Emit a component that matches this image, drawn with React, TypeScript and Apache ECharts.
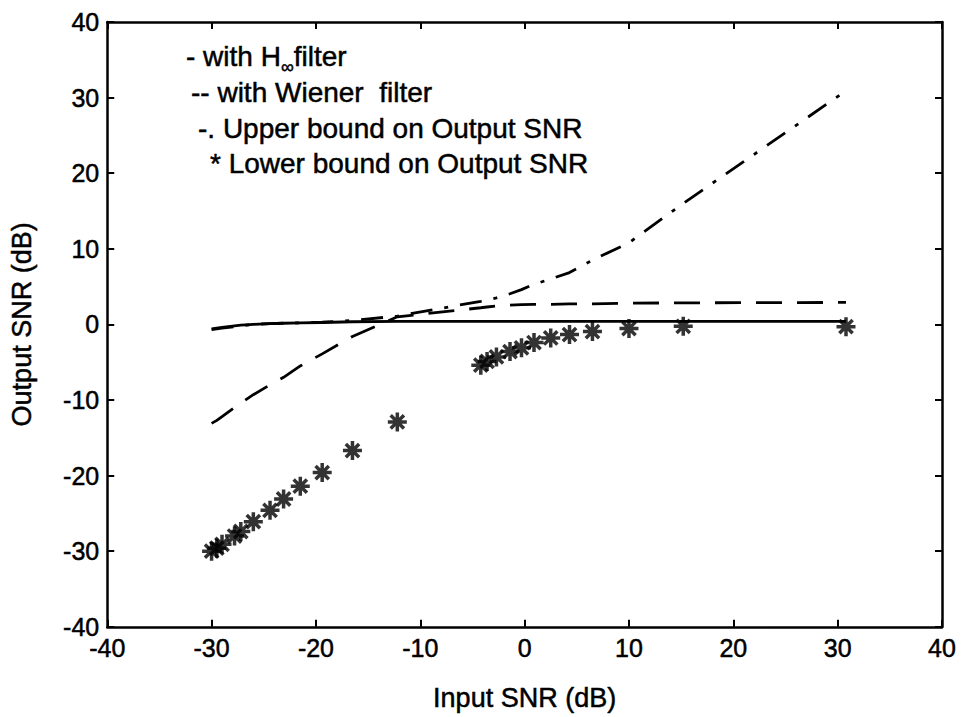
import React, { useEffect, useRef } from "react";
import * as echarts from "echarts";

const inputSnr = [-30.0, -29.5, -29.0, -27.8, -27.2, -26.0, -24.4, -23.1, -21.5, -19.4, -16.5, -12.2, -4.2, -3.6, -2.7, -1.4, -0.3, 0.9, 2.5, 4.3, 6.5, 10.0, 15.2, 30.8];
const lowerBound = [-30.0, -29.6, -29.1, -28.0, -27.4, -26.1, -24.6, -23.1, -21.4, -19.6, -16.7, -12.9, -5.4, -4.9, -4.3, -3.6, -3.1, -2.4, -1.8, -1.35, -0.95, -0.55, -0.25, -0.3];
const hinfOut = [-0.6, -0.5, -0.4, -0.2, -0.1, 0.0, 0.1, 0.15, 0.2, 0.25, 0.35, 0.4, 0.4, 0.4, 0.4, 0.4, 0.4, 0.4, 0.4, 0.4, 0.4, 0.4, 0.4, 0.4];
const wienerOut = [-13.1, -12.7, -12.2, -11.0, -10.4, -9.3, -8.0, -7.0, -5.5, -3.9, -1.6, 1.0, 2.2, 2.3, 2.45, 2.55, 2.6, 2.65, 2.65, 2.7, 2.7, 2.8, 2.85, 2.9];
const upperBound = [-0.7, -0.6, -0.5, -0.3, -0.2, 0.0, 0.1, 0.15, 0.2, 0.3, 0.5, 1.1, 3.05, 3.2, 3.5, 4.05, 4.6, 5.3, 6.0, 6.85, 8.5, 10.8, 16.0, 30.9];

const legendRows = ["-- with Wiener  filter", "-. Upper bound on Output SNR", "* Lower bound on Output SNR"];

const FONT = "Liberation Sans, Arial, Helvetica, sans-serif";
const STAR = "path://M0,-10L0,10M-10,0L10,0M-7,-7L7,7M-7,7L7,-7";

const zip = (xs: number[], ys: number[]) => xs.map((x, i) => [x, ys[i]]);

export default function App() {
  const ref = useRef<HTMLDivElement>(null);
  useEffect(() => {
    if (!ref.current) return;
    const chart = echarts.init(ref.current, null, { renderer: "svg" });
    const axisCommon = {
      type: "value" as const,
      min: -40,
      max: 40,
      interval: 10,
      axisLine: { show: true, onZero: false, lineStyle: { color: "#000", width: 2.5 } },
      axisTick: { show: true, inside: true, length: 7, lineStyle: { color: "#000", width: 2 } },
      splitLine: { show: false },
    };
    const heavy = { textBorderColor: "#000", textBorderWidth: 0.5 };
    const gHeavy = { stroke: "#000", lineWidth: 0.5 };
    chart.setOption({
      animation: false,
      backgroundColor: "#fff",
      grid: { left: 102, right: 21, top: 22, bottom: 83, containLabel: false },
      xAxis: [
        {
          ...axisCommon,
          position: "bottom",
          axisLabel: { color: "#000", fontSize: 25, fontFamily: FONT, margin: 9, ...heavy },
          name: "Input SNR (dB)",
          nameLocation: "middle",
          nameGap: 58,
          nameTextStyle: { color: "#000", fontSize: 27, fontFamily: FONT, ...heavy },
        },
        { ...axisCommon, position: "top", axisLabel: { show: false } },
      ],
      yAxis: [
        {
          ...axisCommon,
          position: "left",
          axisLabel: { color: "#000", fontSize: 25, fontFamily: FONT, margin: 8, ...heavy },
          name: "Output SNR (dB)",
          nameLocation: "middle",
          nameGap: 72,
          nameTextStyle: { color: "#000", fontSize: 27, fontFamily: FONT, ...heavy },
        },
        { ...axisCommon, position: "right", axisLabel: { show: false } },
      ],
      series: [
        {
          name: "Hinf",
          type: "line",
          data: zip(inputSnr, hinfOut),
          showSymbol: false,
          lineStyle: { color: "#000", width: 2.8, type: "solid" },
        },
        {
          name: "Wiener",
          type: "line",
          data: zip(inputSnr, wienerOut),
          showSymbol: false,
          lineStyle: { color: "#000", width: 2.8, type: [26, 15] },
        },
        {
          name: "Upper",
          type: "line",
          data: zip(inputSnr, upperBound),
          showSymbol: false,
          lineStyle: { color: "#000", width: 2.8, type: [22, 12, 4, 12] },
        },
        {
          name: "Lower",
          type: "scatter",
          data: zip(inputSnr, lowerBound),
          symbol: STAR,
          symbolSize: 19,
          itemStyle: { color: "none", borderColor: "#000", borderWidth: 3.5 },
        },
      ],
      graphic: [
        {
          type: "text",
          x: 186,
          y: 56,
          style: {
            text: "{a|- with H}{s|∞}{a|filter}",
            verticalAlign: "middle",
            rich: {
              a: { fontSize: 28, fontFamily: FONT, fill: "#000", lineHeight: 40, verticalAlign: "middle", ...gHeavy },
              s: { fontSize: 18, fontFamily: FONT, fill: "#000", lineHeight: 18, verticalAlign: "bottom", ...gHeavy },
            },
          },
        },
        ...legendRows.map((t, i) => ({
          type: "text",
          x: [191, 198, 210][i],
          y: [92, 128, 163][i],
          style: { text: t, fontSize: 28, fontFamily: FONT, fill: "#000", verticalAlign: "middle", ...gHeavy },
        })),
      ],
    });
    return () => chart.dispose();
  }, []);
  return <div ref={ref} style={{ position: "fixed", left: 0, top: 0, width: 963, height: 717 }} />;
}
